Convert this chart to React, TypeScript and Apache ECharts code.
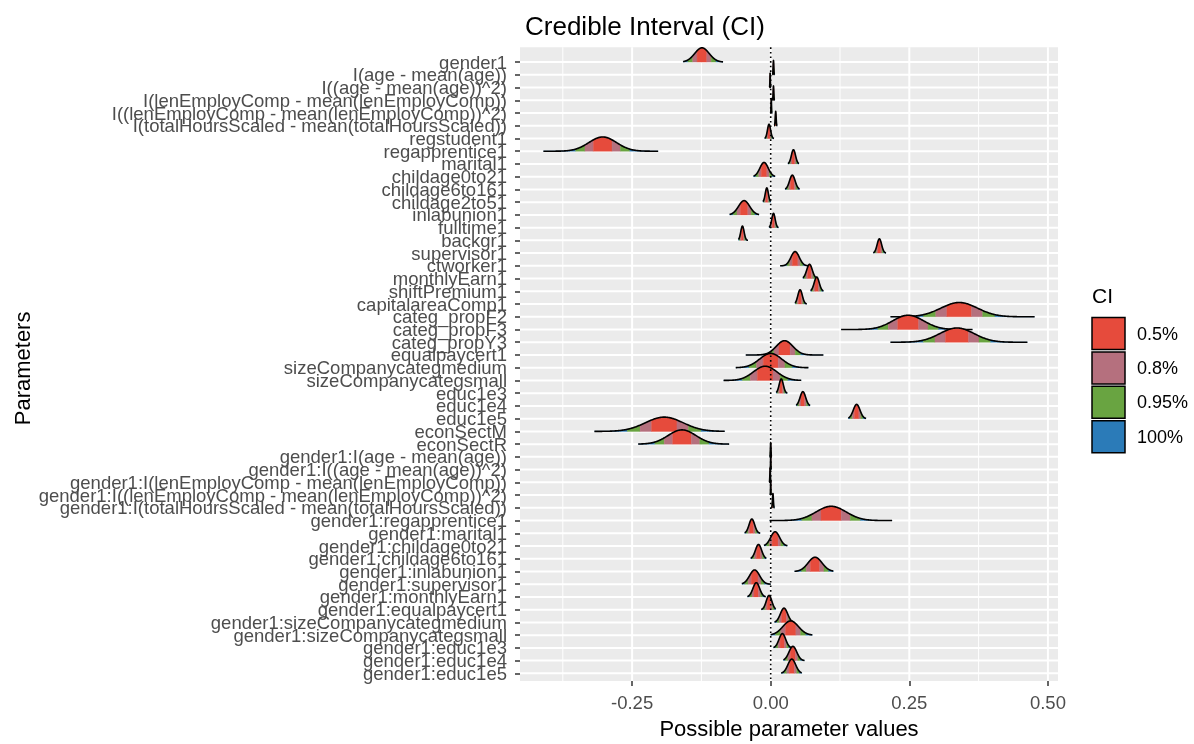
import React, { useEffect, useRef } from "react";
import * as echarts from "echarts";

// ---------- data ----------
const PARAMS = [
  "gender1",
  "I(age - mean(age))",
  "I((age - mean(age))^2)",
  "I(lenEmployComp - mean(lenEmployComp))",
  "I((lenEmployComp - mean(lenEmployComp))^2)",
  "I(totalHoursScaled - mean(totalHoursScaled))",
  "regstudent1",
  "regapprentice1",
  "marital1",
  "childage0to21",
  "childage6to161",
  "childage2to51",
  "inlabunion1",
  "fulltime1",
  "backgr1",
  "supervisor1",
  "ctworker1",
  "monthlyEarn1",
  "shiftPremium1",
  "capitalareaComp1",
  "categ_propF2",
  "categ_propF3",
  "categ_propY3",
  "equalpaycert1",
  "sizeCompanycategmedium",
  "sizeCompanycategsmall",
  "educ1e3",
  "educ1e4",
  "educ1e5",
  "econSectM",
  "econSectR",
  "gender1:I(age - mean(age))",
  "gender1:I((age - mean(age))^2)",
  "gender1:I(lenEmployComp - mean(lenEmployComp))",
  "gender1:I((lenEmployComp - mean(lenEmployComp))^2)",
  "gender1:I(totalHoursScaled - mean(totalHoursScaled))",
  "gender1:regapprentice1",
  "gender1:marital1",
  "gender1:childage0to21",
  "gender1:childage6to161",
  "gender1:inlabunion1",
  "gender1:supervisor1",
  "gender1:monthlyEarn1",
  "gender1:equalpaycert1",
  "gender1:sizeCompanycategmedium",
  "gender1:sizeCompanycategsmall",
  "gender1:educ1e3",
  "gender1:educ1e4",
  "gender1:educ1e5",
];

// posterior centre of each parameter
const CENTER = [
  -0.124, 0.005, -0.001, 0.005, 0.001, 0.009, -0.003, -0.303, 0.041, -0.012,
  0.039, -0.007, -0.048, 0.005, -0.051, 0.196, 0.044, 0.07, 0.083, 0.053,
  0.34, 0.248, 0.336, 0.025, 0.0, -0.01, 0.019, 0.058, 0.155, -0.192,
  -0.16, 0.0, 0.0, -0.001, 0.0, 0.004, 0.109, -0.034, 0.008, -0.022,
  0.08, -0.029, -0.026, -0.003, 0.024, 0.036, 0.021, 0.04, 0.038,
];
// posterior spread (standard deviation) of each parameter
const SPREAD = [
  0.013, 0.0006, 0.0004, 0.0006, 0.0004, 0.0008, 0.0028, 0.025, 0.0037, 0.0075,
  0.005, 0.0028, 0.01, 0.003, 0.003, 0.004, 0.0075, 0.005, 0.0045, 0.004,
  0.033, 0.028, 0.031, 0.015, 0.02, 0.021, 0.0037, 0.005, 0.006, 0.034,
  0.025, 0.0005, 0.0003, 0.0005, 0.0003, 0.0008, 0.027, 0.005, 0.008, 0.0055,
  0.0125, 0.009, 0.006, 0.005, 0.0065, 0.014, 0.006, 0.007, 0.007,
];
// full range of the posterior draws (flat tails of the ridge)
const RANGE_LO = [
  -0.158, 0.003, -0.0025, 0.003, -0.001, 0.006, -0.011, -0.41, 0.031, -0.031,
  0.026, -0.014, -0.074, -0.003, -0.058, 0.185, 0.017, 0.058, 0.072, 0.044,
  0.216, 0.127, 0.216, -0.045, -0.063, -0.085, 0.01, 0.046, 0.14, -0.318,
  -0.239, -0.002, -0.001, -0.003, -0.001, 0.001, -0.002, -0.047, -0.012, -0.036,
  0.043, -0.052, -0.042, -0.017, 0.007, 0.0, 0.005, 0.023, 0.019,
];
const RANGE_HI = [
  -0.086, 0.007, 0.0005, 0.007, 0.003, 0.012, 0.006, -0.203, 0.051, 0.008,
  0.052, 0.0, -0.021, 0.014, -0.041, 0.208, 0.068, 0.083, 0.095, 0.065,
  0.476, 0.364, 0.463, 0.095, 0.068, 0.055, 0.03, 0.071, 0.172, -0.083,
  -0.075, 0.002, 0.001, 0.001, 0.001, 0.007, 0.219, -0.019, 0.03, -0.008,
  0.113, 0.0, -0.009, 0.009, 0.042, 0.075, 0.037, 0.061, 0.056,
];

const CI_LABELS = ["0.5%", "0.8%", "0.95%", "100%"];
const CI_COLORS = ["#E64B3C", "#B5707E", "#69A441", "#2B7BB8"];
const CI_Z = [0.6745, 1.2816, 1.96]; // half-widths (in sd) of the 50/80/95 % intervals

const X_MAJOR = [-0.25, 0, 0.25, 0.5];
const X_MINOR = [-0.375, -0.125, 0.125, 0.375];

// ---------- layout ----------
const FONT = "'Liberation Sans', Arial, sans-serif";
const X_MIN = -0.4522;
const X_MAX = 0.5182;
const Y_MIN = -1.16;
const Y_MAX = 48.6;
const RIDGE_H = 1.12;
const ROW_IDX = PARAMS.map((_, i) => i);
const ROW_EVEN = ROW_IDX.filter((i) => i % 2 === 0);
const ROW_ODD = ROW_IDX.filter((i) => i % 2 === 1);

const yAxisFor = (rows: number[]) => ({
  type: "value",
  inverse: true,
  min: Y_MIN,
  max: Y_MAX,
  position: "left",
  offset: 0,
  axisLine: { show: false, onZero: false },
  axisTick: { show: true, customValues: rows, length: 5, lineStyle: { color: "#333", width: 1.5 } },
  axisLabel: {
    show: true,
    customValues: rows,
    showMinLabel: true,
    showMaxLabel: true,
    hideOverlap: false,
    formatter: (v: number) => PARAMS[Math.round(v)] ?? "",
    fontSize: 18.5,
    lineHeight: 12,
    color: "#4D4D4D",
    margin: 13,
    fontFamily: FONT,
  },
  splitLine: { show: false },
});

export default function App() {
  const ref = useRef<HTMLDivElement>(null);

  useEffect(() => {
    if (!ref.current) return;
    const chart = echarts.init(ref.current, undefined, { renderer: "svg" });

    const ridgeData = PARAMS.map((_, i) => [i, CENTER[i], SPREAD[i], RANGE_LO[i], RANGE_HI[i]]);

    const option: any = {
      animation: false,
      textStyle: { fontFamily: FONT },
      title: {
        text: "Credible Interval (CI)",
        left: 520,
        top: 8,
        textStyle: { fontSize: 26, fontWeight: "normal", color: "#000", fontFamily: FONT },
      },
      grid: {
        left: 520,
        right: 136,
        top: 47.3,
        bottom: 54.5,
        show: true,
        backgroundColor: "#EBEBEB",
        borderWidth: 0,
      },
      xAxis: {
        type: "value",
        min: X_MIN,
        max: X_MAX,
        name: "Possible parameter values",
        nameLocation: "middle",
        nameGap: 36,
        nameTextStyle: { fontSize: 22, color: "#000", fontFamily: FONT },
        axisLine: { show: false, onZero: false },
        axisTick: { show: true, customValues: X_MAJOR, length: 5, lineStyle: { color: "#333", width: 1.5 } },
        axisLabel: {
          show: true,
          customValues: X_MAJOR,
          showMinLabel: true,
          showMaxLabel: true,
          formatter: (v: number) => v.toFixed(2),
          fontSize: 18.5,
          color: "#4D4D4D",
          margin: 12,
          fontFamily: FONT,
        },
        splitLine: { show: false },
      },
      yAxis: [yAxisFor(ROW_EVEN), yAxisFor(ROW_ODD)],
      graphic: [
        {
          type: "text",
          x: 22,
          y: 368.4,
          rotation: Math.PI / 2,
          style: {
            text: "Parameters",
            fontSize: 22,
            fill: "#000",
            fontFamily: FONT,
            textAlign: "center",
            textVerticalAlign: "middle",
          },
        },
        {
          type: "text",
          x: 1092,
          y: 295,
          style: { text: "CI", fontSize: 21, fill: "#000", fontFamily: FONT, textVerticalAlign: "middle" },
        },
        ...CI_LABELS.flatMap((lab, k) => [
          {
            type: "rect",
            shape: { x: 1092, y: 317.5 + k * 34.4, width: 33, height: 32 },
            style: { fill: CI_COLORS[k], stroke: "#000", lineWidth: 1.5 },
          },
          {
            type: "text",
            x: 1137,
            y: 317.5 + k * 34.4 + 16,
            style: {
              text: lab,
              fontSize: 18,
              fill: "#000",
              fontFamily: FONT,
              textVerticalAlign: "middle",
            },
          },
        ]),
      ],
      series: [
        {
          type: "custom",
          name: "grid",
          silent: true,
          yAxisIndex: 0,
          data: [[0]],
          renderItem: (_p: any, api: any) => {
            const children: any[] = [];
            X_MINOR.forEach((x) => {
              const a = api.coord([x, Y_MIN]);
              const b = api.coord([x, Y_MAX]);
              children.push({
                type: "line",
                shape: { x1: a[0], y1: a[1], x2: b[0], y2: b[1] },
                style: { stroke: "#FFFFFF", lineWidth: 1 },
              });
            });
            X_MAJOR.forEach((x) => {
              const a = api.coord([x, Y_MIN]);
              const b = api.coord([x, Y_MAX]);
              children.push({
                type: "line",
                shape: { x1: a[0], y1: a[1], x2: b[0], y2: b[1] },
                style: { stroke: "#FFFFFF", lineWidth: 2 },
              });
            });
            ROW_IDX.forEach((r) => {
              const a = api.coord([X_MIN, r]);
              const b = api.coord([X_MAX, r]);
              children.push({
                type: "line",
                shape: { x1: a[0], y1: a[1], x2: b[0], y2: b[1] },
                style: { stroke: "#FFFFFF", lineWidth: 2 },
              });
            });
            return { type: "group", children };
          },
        },
        {
          type: "custom",
          name: "ridges",
          silent: true,
          yAxisIndex: 0,
          data: ridgeData,
          renderItem: (_p: any, api: any) => {
            const row = api.value(0);
            const c = api.value(1);
            const sd = api.value(2);
            const lo = api.value(3);
            const hi = api.value(4);
            const f = (x: number) => RIDGE_H * Math.exp(-0.5 * ((x - c) / sd) ** 2);
            const pt = (x: number, h: number) => api.coord([x, row - h]);
            const span = hi - lo;
            const sample = (a: number, b: number, total: number) => {
              const n = Math.max(6, Math.ceil((total * (b - a)) / span));
              const pts: number[][] = [];
              for (let k = 0; k <= n; k++) {
                const x = a + ((b - a) * k) / n;
                pts.push(pt(x, f(x)));
              }
              return pts;
            };
            const clamp = (x: number) => Math.min(hi, Math.max(lo, x));
            const edges = [
              lo,
              clamp(c - CI_Z[2] * sd),
              clamp(c - CI_Z[1] * sd),
              clamp(c - CI_Z[0] * sd),
              clamp(c + CI_Z[0] * sd),
              clamp(c + CI_Z[1] * sd),
              clamp(c + CI_Z[2] * sd),
              hi,
            ];
            const segColor = [3, 2, 1, 0, 1, 2, 3];
            const children: any[] = [];
            for (let s = 0; s < 7; s++) {
              const a = edges[s];
              const b = edges[s + 1];
              if (b - a <= 0) continue;
              const pts = [pt(a, 0), ...sample(a, b, 240), pt(b, 0)];
              const col = CI_COLORS[segColor[s]];
              children.push({
                type: "polygon",
                shape: { points: pts },
                style: { fill: col, stroke: col, lineWidth: 0.4 },
              });
            }
            children.push({
              type: "polyline",
              shape: { points: sample(lo, hi, 240) },
              style: { fill: "none", stroke: "#000", lineWidth: 1.6 },
            });
            return { type: "group", children };
          },
        },
        {
          type: "custom",
          name: "zero",
          silent: true,
          yAxisIndex: 0,
          data: [[0]],
          renderItem: (_p: any, api: any) => {
            const a = api.coord([0, Y_MIN]);
            const b = api.coord([0, Y_MAX]);
            return {
              type: "line",
              shape: { x1: a[0], y1: a[1], x2: b[0], y2: b[1] },
              style: { stroke: "#000", lineWidth: 1.6, lineDash: [1.6, 3] },
            };
          },
        },
      ],
    };

    chart.setOption(option);
    return () => chart.dispose();
  }, []);

  return (
    <div
      ref={ref}
      style={{ position: "fixed", left: 0, top: 0, width: 1194, height: 744 }}
    />
  );
}
